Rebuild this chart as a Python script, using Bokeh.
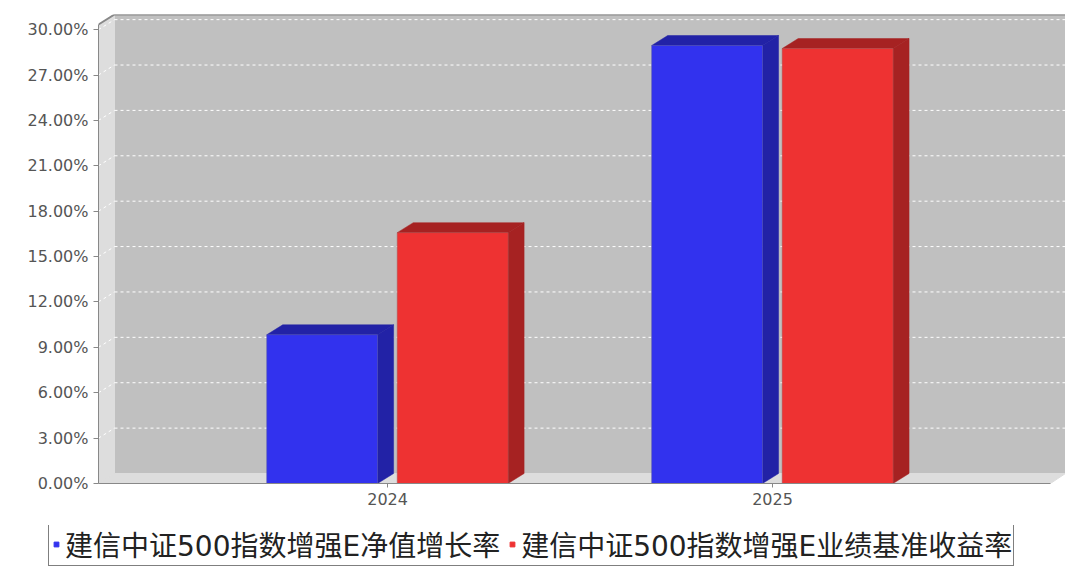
from bokeh.plotting import figure
from bokeh.layouts import column
from bokeh.models import FixedTicker, PrintfTickFormatter, Legend, LegendItem, Range1d
from bokeh.embed import file_html
from bokeh.resources import INLINE

years = ["2024", "2025"]
nav_growth = [9.83, 28.95]      # 建信中证500指数增强E净值增长率
benchmark = [16.58, 28.75]      # 建信中证500指数增强E业绩基准收益率
series_names = ["建信中证500指数增强E净值增长率", "建信中证500指数增强E业绩基准收益率"]
y_ticks = [0, 3, 6, 9, 12, 15, 18, 21, 24, 27, 30]

# 3D geometry (data units)
x0, x1 = 0.249, 2.761
dx, dy = 0.0416, 0.661
ytop = 31.0
bar_w = 0.288
offsets = [-0.170, 0.169]
front = ["#3232ee", "#ee3232"]
dark = ["#2222a6", "#a62222"]

p = figure(width=1065, height=525, output_backend="svg", toolbar_location=None,
           x_range=Range1d(x0, x1), y_range=Range1d(0, ytop),
           min_border_left=98, min_border_top=14, min_border_right=0, min_border_bottom=42)
p.background_fill_color = "white"
p.outline_line_color = None
p.xgrid.visible = False
p.ygrid.visible = False
p.frame_align = False

front_right = x0 + 952 / 385
# back wall, left wall, floor
p.patch([x0 + dx, x1, x1, x0 + dx], [dy, dy, ytop, ytop], color="#c0c0c0")
p.patch([x0, x0 + dx, x0 + dx, x0], [0, dy, ytop, ytop - dy], color="#dddddd")
p.patch([x0, front_right, x1, x0 + dx], [0, 0, dy, dy], color="#dddddd")
p.line([x0, x0 + dx, x1], [ytop - dy, ytop, ytop], color="#888888", line_width=2)

for v in y_ticks[1:]:
    p.line([x0 + dx, x1], [v + dy, v + dy], color="white", line_dash="3 3", line_width=1)
    p.line([x0, x0 + dx], [v, v + dy], color="white", line_dash="3 3", line_width=1)

for s, vals in enumerate([nav_growth, benchmark]):
    for i, v in enumerate(vals):
        c = i + 1 + offsets[s]
        l, rr = c - bar_w / 2, c + bar_w / 2
        p.patch([l, rr, rr + dx, l + dx], [v, v, v + dy, v + dy], fill_color=dark[s],
                line_color=dark[s], line_width=0.5)
        p.patch([rr, rr + dx, rr + dx, rr], [0, dy, v + dy, v], fill_color=dark[s],
                line_color=dark[s], line_width=0.5)
        p.quad(left=l, right=rr, bottom=0, top=v, fill_color=front[s],
               line_color="#5555aa" if s == 0 else "#aa5555", line_width=0.5)

for ax in (p.yaxis, p.xaxis):
    ax.major_label_text_font = "DejaVu Sans"
    ax.major_label_text_font_size = "16px"
    ax.major_label_text_color = "#555555"
    ax.axis_line_color = "#888888"
    ax.major_tick_line_color = "#888888"
    ax.minor_tick_line_color = None
    ax.major_tick_in = 0

p.yaxis.ticker = FixedTicker(ticks=y_ticks)
p.yaxis.formatter = PrintfTickFormatter(format="%.2f%%")
p.yaxis.bounds = (0, ytop - dy)
p.yaxis.major_tick_out = 5

p.xaxis.ticker = FixedTicker(ticks=[1, 2])
p.xaxis.major_label_overrides = {1: years[0], 2: years[1]}
p.xaxis.bounds = (x0, front_right)
p.xaxis.major_tick_out = 4

# legend in its own strip below the chart
lf = figure(width=1065, height=41, output_backend="svg", toolbar_location=None,
            x_range=Range1d(0, 1), y_range=Range1d(0, 1),
            min_border=0, outline_line_color=None)
lf.frame_align = False
lf.axis.visible = False
lf.grid.visible = False
dummies = [lf.scatter([-5], [-5], marker="square", size=10, color=front[i]) for i in range(2)]
legend = Legend(items=[LegendItem(label=series_names[i], renderers=[dummies[i]]) for i in range(2)],
                orientation="horizontal", location=(48, 0),
                label_text_font="DejaVu Sans, Noto Sans CJK SC", label_text_font_size="28px",
                label_text_color="#222222", border_line_color="black", border_line_width=1,
                glyph_width=12, glyph_height=12, spacing=6, padding=1, margin=0,
                label_standoff=3, label_height=30)
lf.add_layout(legend, "center")

open("out.html", "w").write(file_html(column(p, lf, spacing=0), INLINE))
